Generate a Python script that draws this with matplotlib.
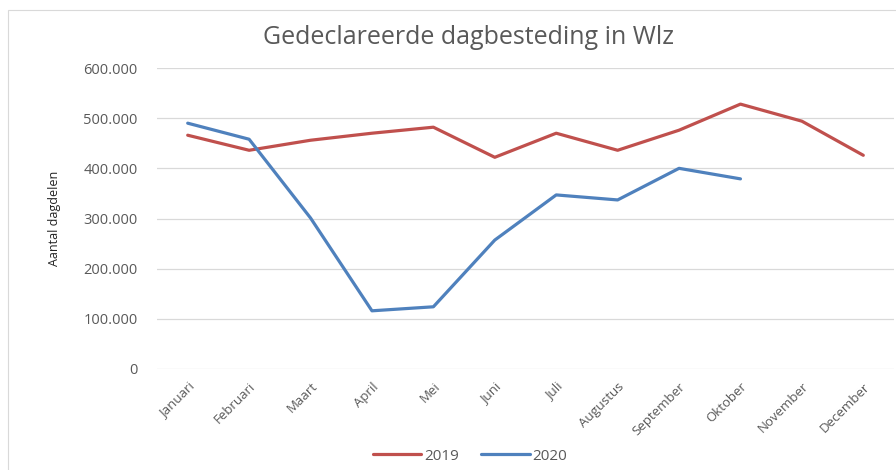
import matplotlib
matplotlib.use("Agg")
import matplotlib.pyplot as plt
from matplotlib.ticker import FuncFormatter, MultipleLocator
from matplotlib.patches import Rectangle

months = ["Januari", "Februari", "Maart", "April", "Mei", "Juni", "Juli",
          "Augustus", "September", "Oktober", "November", "December"]
v2019 = [466000, 436000, 456000, 470000, 482000, 422000, 470000,
         436000, 476000, 528000, 494000, 426000]
v2020 = [490000, 458000, 301000, 116000, 124000, 257000, 347000,
         337000, 400000, 379000]

plt.rcParams['font.family'] = ['Open Sans', 'DejaVu Sans']
grey = "#595959"

fig = plt.figure(figsize=(8.96, 4.70), dpi=100)
fig.patches.append(Rectangle((8/896, -0.01), 1.0, 1 - 10/470 + 0.01,
                             transform=fig.transFigure, fill=False,
                             edgecolor="#d9d9d9", linewidth=0.8))
ax = fig.add_axes([157/896, 1 - 369/470, (894 - 157)/896, (369 - 68)/470])

x19 = list(range(len(v2019)))
x20 = list(range(len(v2020)))
ax.plot(x19, v2019, color="#C0504D", linewidth=2.3, label="2019",
        solid_capstyle="round", zorder=3)
ax.plot(x20, v2020, color="#4F81BD", linewidth=2.3, label="2020",
        solid_capstyle="round", zorder=3)

ax.set_xlim(-0.5, 11.5)
ax.set_ylim(0, 600000)
ax.yaxis.set_major_locator(MultipleLocator(100000))
ax.yaxis.set_major_formatter(FuncFormatter(
    lambda v, p: "0" if v == 0 else f"{int(v):,}".replace(",", ".")))
ax.grid(axis="y", color="#d9d9d9", linewidth=0.9)
ax.set_axisbelow(True)
for s in ax.spines.values():
    s.set_visible(False)
ax.tick_params(axis="y", length=0, colors=grey, labelsize=10.5, pad=14)
ax.set_xticks(x19)
ax.set_xticklabels(months, rotation=45, ha="right", rotation_mode="anchor",
                   fontsize=9.5, color=grey)
ax.tick_params(axis="x", length=0, pad=8)
ax.set_ylabel("Aantal dagdelen", fontsize=9, color="#222222")
ax.yaxis.set_label_coords(-0.13, 0.5)

fig.text(468/896, 1 - 38/470, "Gedeclareerde dagbesteding in Wlz",
         ha="center", va="center", fontsize=18, color=grey)

leg = fig.legend(loc="center", bbox_to_anchor=(470/896, 1 - 456/470),
                 ncol=2, frameon=False, fontsize=11, handlelength=3.2,
                 columnspacing=1.4, handletextpad=0.2)
for t in leg.get_texts():
    t.set_color(grey)

fig.savefig("out.png", dpi=100, facecolor="white")
